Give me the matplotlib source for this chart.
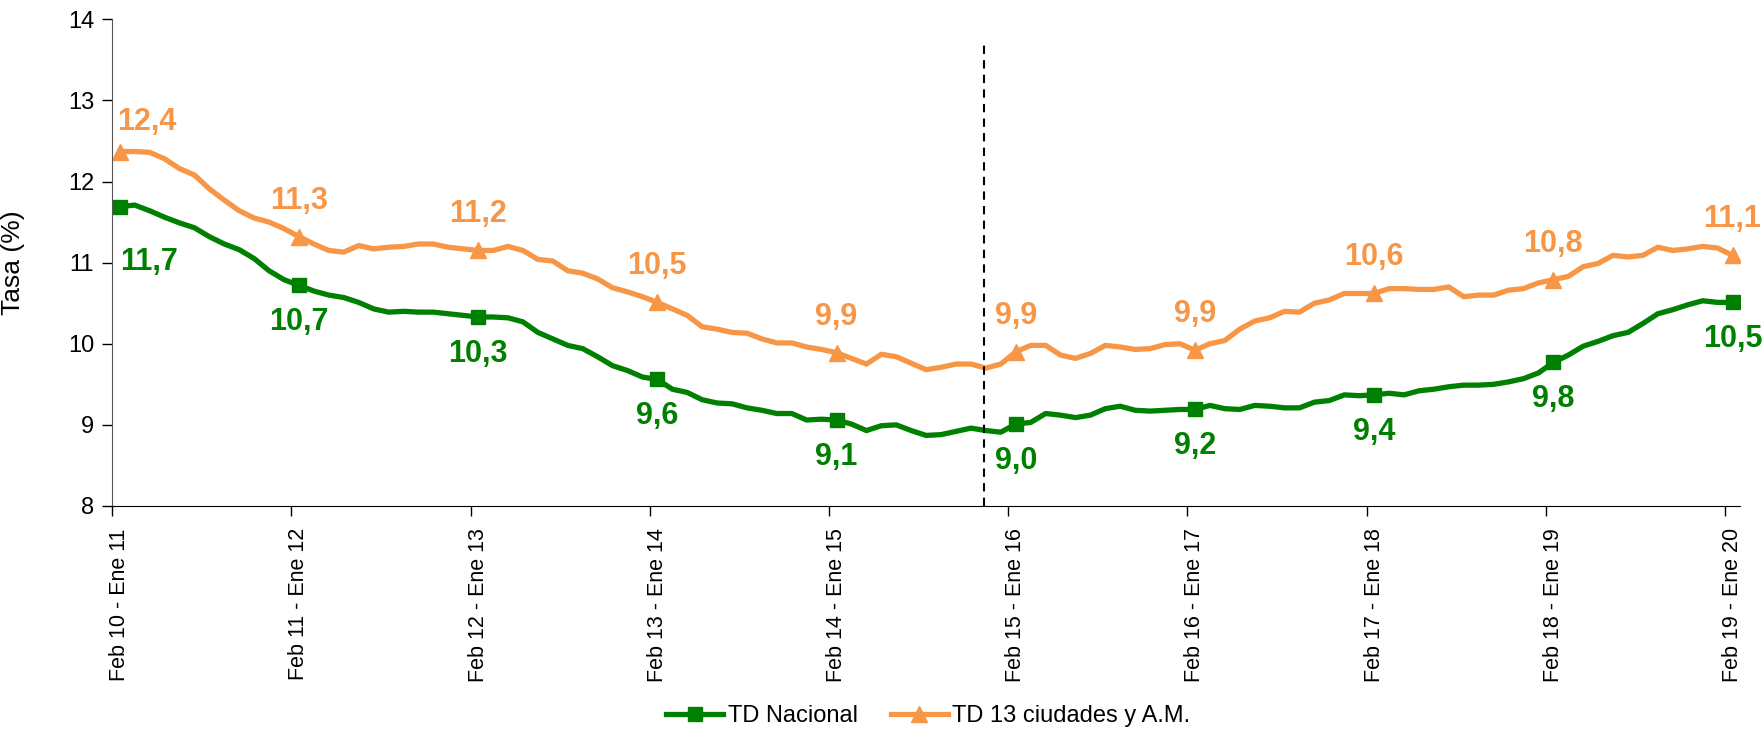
import numpy as np
import matplotlib.pyplot as plt

plt.rcParams['font.family'] = ['Liberation Sans', 'DejaVu Sans']

# periodos moviles (ene-dic), un dato por mes
periodos = ["Feb 10 - Ene 11", "Feb 11 - Ene 12", "Feb 12 - Ene 13", "Feb 13 - Ene 14",
            "Feb 14 - Ene 15", "Feb 15 - Ene 16", "Feb 16 - Ene 17", "Feb 17 - Ene 18",
            "Feb 18 - Ene 19", "Feb 19 - Ene 20"]

td_nacional = [11.69, 11.71, 11.64, 11.56, 11.49, 11.43, 11.32, 11.23, 11.16, 11.05, 10.90, 10.79,
               10.72, 10.65, 10.60, 10.57, 10.51, 10.43, 10.39, 10.40, 10.39, 10.39, 10.37, 10.35,
               10.33, 10.33, 10.32, 10.27, 10.14, 10.06, 9.98, 9.94, 9.84, 9.73, 9.67, 9.59,
               9.56, 9.44, 9.40, 9.31, 9.27, 9.26, 9.21, 9.18, 9.14, 9.14, 9.06, 9.07,
               9.06, 9.01, 8.93, 8.99, 9.00, 8.93, 8.87, 8.88, 8.92, 8.96, 8.93, 8.91,
               9.01, 9.03, 9.14, 9.12, 9.09, 9.12, 9.20, 9.23, 9.18, 9.17, 9.18, 9.19,
               9.19, 9.24, 9.20, 9.19, 9.24, 9.23, 9.21, 9.21, 9.28, 9.30, 9.37, 9.36,
               9.37, 9.39, 9.37, 9.42, 9.44, 9.47, 9.49, 9.49, 9.50, 9.53, 9.57, 9.64,
               9.77, 9.86, 9.97, 10.03, 10.10, 10.14, 10.25, 10.37, 10.42, 10.48, 10.53, 10.51,
               10.51]

td_13ciudades = [12.37, 12.37, 12.36, 12.28, 12.16, 12.08, 11.91, 11.77, 11.64, 11.55, 11.50, 11.42,
                 11.32, 11.23, 11.15, 11.13, 11.21, 11.17, 11.19, 11.20, 11.23, 11.23, 11.19, 11.17,
                 11.15, 11.15, 11.20, 11.15, 11.04, 11.02, 10.90, 10.87, 10.80, 10.69, 10.64, 10.58,
                 10.51, 10.43, 10.35, 10.21, 10.18, 10.14, 10.13, 10.06, 10.01, 10.01, 9.96, 9.93,
                 9.89, 9.82, 9.75, 9.87, 9.84, 9.76, 9.68, 9.71, 9.75, 9.75, 9.70, 9.75,
                 9.90, 9.98, 9.98, 9.86, 9.82, 9.88, 9.98, 9.96, 9.93, 9.94, 9.99, 10.00,
                 9.92, 10.00, 10.04, 10.18, 10.28, 10.32, 10.40, 10.39, 10.50, 10.54, 10.62, 10.62,
                 10.62, 10.68, 10.68, 10.67, 10.67, 10.70, 10.58, 10.60, 10.60, 10.66, 10.68, 10.75,
                 10.79, 10.83, 10.95, 10.99, 11.09, 11.07, 11.09, 11.19, 11.15, 11.17, 11.20, 11.18,
                 11.09]

etiq_nacional = [11.7, 10.7, 10.3, 9.6, 9.1, 9.0, 9.2, 9.4, 9.8, 10.5]
etiq_13 = [12.4, 11.3, 11.2, 10.5, 9.9, 9.9, 9.9, 10.6, 10.8, 11.1]

verde = '#008000'
naranja = '#F79646'

x = np.arange(len(td_nacional))
pos_etiq = x[::12]

fig = plt.figure(figsize=(17.65, 7.3), dpi=100)
ax = fig.add_axes([112.3/1765, 1 - 506/730, (1740 - 112.3)/1765, (506 - 19.3)/730])

ax.plot(x, td_nacional, color=verde, lw=3.8, marker='s', markersize=10, markevery=12,
        label='TD Nacional', solid_joinstyle='round')
ax.plot(x, td_13ciudades, color=naranja, lw=3.8, marker='^', markersize=11, markevery=12,
        label='TD 13 ciudades y A.M.', solid_joinstyle='round')

# etiquetas de datos
for i, (p, v) in enumerate(zip(pos_etiq, etiq_13)):
    dx = 27 if i == 0 else 0
    dy = 30 if i == 0 else 36
    ax.annotate(f"{v:.1f}".replace('.', ','), (p, td_13ciudades[p]), xytext=(dx, dy),
                textcoords='offset pixels', ha='center', va='center', fontsize=22,
                fontweight='bold', color=naranja)
for i, (p, v) in enumerate(zip(pos_etiq, etiq_nacional)):
    dx = 29 if i == 0 else 0
    dy = -55 if i == 0 else -37
    ax.annotate(f"{v:.1f}".replace('.', ','), (p, td_nacional[p]), xytext=(dx, dy),
                textcoords='offset pixels', ha='center', va='center', fontsize=22,
                fontweight='bold', color=verde)

# linea de cambio de serie
ax.plot([57.9, 57.9], [8, 13.68], color='black', lw=1.5, ls=(0, (4, 3)))

ax.set_xlim(-0.5, 108.5)
ax.set_ylim(8, 14)
ax.set_yticks(range(8, 15))
ax.tick_params(axis='y', labelsize=17, length=7, width=1, pad=6)
ax.set_xticks(pos_etiq)
ax.set_xticklabels(periodos, rotation=90, fontsize=15.5)
ax.tick_params(axis='x', which='major', length=0, pad=16)
ax.set_xticks(np.arange(-0.5, 109, 12), minor=True)
ax.tick_params(axis='x', which='minor', length=7, width=1, direction='out')

for s in ['top', 'right']:
    ax.spines[s].set_visible(False)
ax.spines['left'].set_color('#555555')
ax.spines['bottom'].set_color('black')

ax.set_ylabel('Tasa (%)', fontsize=19)
ax.yaxis.set_label_coords(-(112.3 - 25) / (1740 - 112.3), 0.5)

fig.legend(loc='center', bbox_to_anchor=(0.526, 0.019), ncol=2, frameon=False, fontsize=17,
           handlelength=2.4, handletextpad=0.2, columnspacing=1.4)

fig.savefig('out.png', dpi=100)
